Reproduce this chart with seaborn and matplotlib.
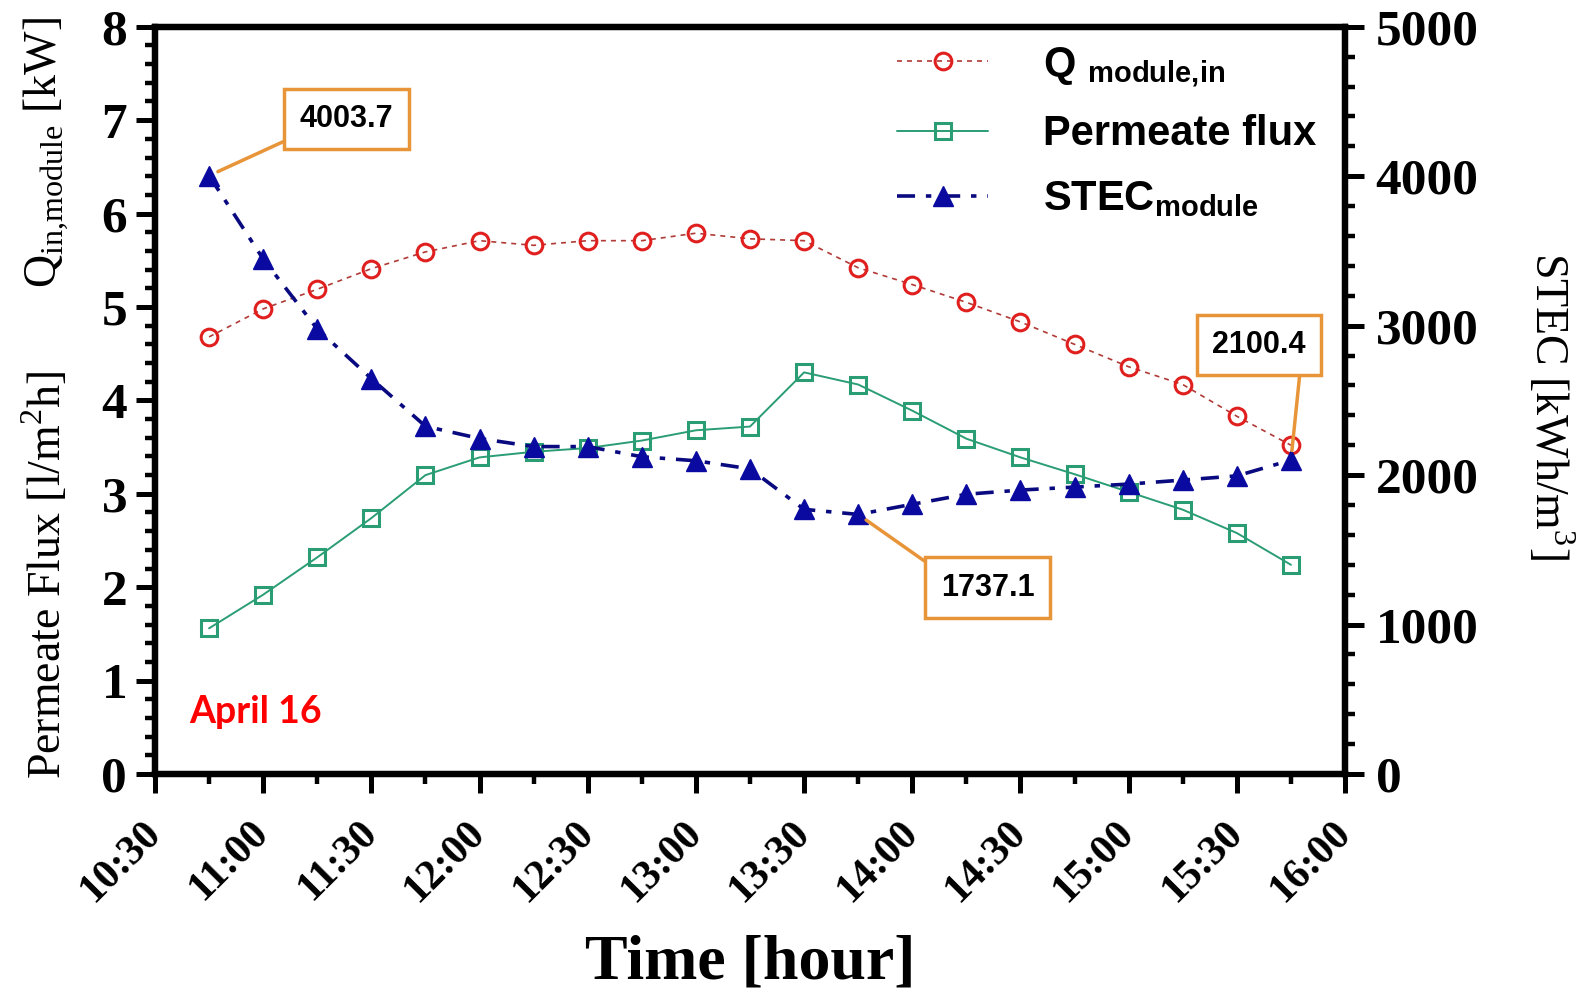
import matplotlib
matplotlib.use("Agg")
import matplotlib.pyplot as plt
from matplotlib.ticker import MultipleLocator
import seaborn as sns

# data (April 16)
times = ["10:45", "11:00", "11:15", "11:30", "11:45", "12:00", "12:15",
         "12:30", "12:45", "13:00", "13:15", "13:30", "13:45", "14:00",
         "14:15", "14:30", "14:45", "15:00", "15:15", "15:30", "15:45"]
q_module_in = [4.68, 4.98, 5.19, 5.41, 5.59, 5.71, 5.66, 5.71, 5.71, 5.79, 5.73,
               5.71, 5.42, 5.24, 5.05, 4.84, 4.60, 4.36, 4.17, 3.83, 3.52]
permeate_flux = [1.56, 1.92, 2.32, 2.74, 3.20, 3.39, 3.45, 3.49, 3.57, 3.68, 3.72,
                 4.30, 4.17, 3.89, 3.59, 3.39, 3.21, 3.02, 2.83, 2.58, 2.24]
stec_module = [4003.7, 3446, 2978, 2646, 2327, 2245, 2191, 2191, 2123, 2096, 2042,
               1771, 1737.1, 1805, 1872, 1900, 1920, 1940, 1967, 1995, 2100.4]
xtick_labels = ["10:30", "11:00", "11:30", "12:00", "12:30", "13:00",
                "13:30", "14:00", "14:30", "15:00", "15:30", "16:00"]


def to_hours(s):
    h, m = s.split(":")
    return int(h) + int(m) / 60


hours = [to_hours(t) for t in times]
xticks = [to_hours(t) for t in xtick_labels]

sns.set_style("ticks")
plt.rcParams["font.family"] = ["Liberation Serif", "DejaVu Serif"]
plt.rcParams.update({"text.color": "black", "axes.labelcolor": "black",
                     "xtick.color": "black", "ytick.color": "black"})

orange = "#E8953A"
red = "#E0201E"
green = "#2A9D74"
blue = "#0A0AA0"

fig = plt.figure(figsize=(15.88, 9.99), dpi=100)
ax = fig.add_axes([0.0976, 0.2252, 0.7494, 0.748])
ax2 = ax.twinx()

sns.lineplot(x=hours, y=q_module_in, ax=ax, sort=False, errorbar=None,
             color="#B03A36", linestyle=(0, (3, 3)), linewidth=1.2,
             marker="o", markersize=12, markerfacecolor="none",
             markeredgecolor=red, markeredgewidth=2.2,
             label="Q $_{\\mathregular{module{,}in}}$")
sns.lineplot(x=hours, y=permeate_flux, ax=ax, sort=False, errorbar=None,
             color=green, linestyle="-", linewidth=1.4,
             marker="s", markersize=12, markerfacecolor="none",
             markeredgecolor=green, markeredgewidth=2.2, label="Permeate flux")
sns.lineplot(x=hours, y=stec_module, ax=ax2, sort=False, errorbar=None,
             color="#0A0A80", linestyle=(0, (5, 3, 1.5, 3)), linewidth=2.6,
             marker="^", markersize=15, markerfacecolor=blue,
             markeredgecolor=blue, markeredgewidth=1,
             label="STEC$_{\\mathregular{module}}$")

ax.set_xlim(10.5, 16.0)
ax.set_ylim(0, 8)
ax2.set_ylim(0, 5000)

ax.set_xticks(xticks)
ax.set_xticklabels(xtick_labels, rotation=45, ha="right", va="center",
                   rotation_mode="anchor", fontsize=30, fontweight="bold")
ax.xaxis.set_minor_locator(MultipleLocator(0.25))
ax.yaxis.set_major_locator(MultipleLocator(1))
ax.yaxis.set_minor_locator(MultipleLocator(0.2))
ax2.yaxis.set_major_locator(MultipleLocator(1000))
ax2.yaxis.set_minor_locator(MultipleLocator(200))

for lab in ax.get_yticklabels() + ax2.get_yticklabels():
    lab.set_fontsize(37)
    lab.set_fontweight("bold")

ax.tick_params(axis="both", which="major", direction="out", length=14, width=3.6, pad=6)
ax.tick_params(axis="both", which="minor", direction="out", length=7, width=3.2)
ax.tick_params(axis="x", which="major", pad=24)
ax.tick_params(top=False, right=False, which="both")
ax2.tick_params(axis="y", which="major", direction="out", length=14, width=3.6, pad=8)
ax2.tick_params(axis="y", which="minor", direction="out", length=7, width=3.2)
ax2.tick_params(left=False, which="both")

for a in (ax, ax2):
    for sp in a.spines.values():
        sp.set_visible(True)
        sp.set_linewidth(4.5)
        sp.set_color("black")

ax.set_xlabel("Time [hour]", fontsize=46, fontweight="bold", labelpad=18)
ax.set_ylabel("")
fig.text(0.029, 0.425, "Permeate Flux [l/m$^{\\mathregular{2}}$h]", rotation=90,
         ha="center", va="center", fontsize=33)
fig.text(0.029, 0.847, "Q$_{\\mathregular{in{,}module}}$ [kW]", rotation=90,
         ha="center", va="center", fontsize=33)
fig.text(0.976, 0.594, "STEC [kWh/m$^{\\mathregular{3}}$]", rotation=270,
         ha="center", va="center", fontsize=33)

ax.text(0.029, 0.083, "April 16", transform=ax.transAxes, color="#FF0000",
        fontsize=27, fontweight="bold", family="Lato", ha="left", va="center")

# legend combining both axes
h1, l1 = ax.get_legend_handles_labels()
h2, l2 = ax2.get_legend_handles_labels()
ax.get_legend().remove()
ax2.get_legend().remove()
leg = ax2.legend(h1 + h2, l1 + l2, loc="upper right", bbox_to_anchor=(1.0, 1.015),
                 frameon=False, handlelength=2.2, labelspacing=0.6, handletextpad=1.3,
                 borderaxespad=0.3, prop={"family": "Liberation Sans", "weight": "bold", "size": 30})

# callouts on STEC
box = dict(boxstyle="square,pad=0.5", fc="white", ec=orange, lw=2.5)
arrow = dict(arrowstyle="-", color=orange, lw=2.5, shrinkA=0, shrinkB=7)
ann_font = dict(fontsize=22, fontweight="bold", family="Liberation Sans", ha="center", va="center")
ax2.annotate(f"{stec_module[0]:.1f}", xy=(hours[0], stec_module[0]), xytext=(11.385, 4382),
             bbox=box, arrowprops=dict(arrow, relpos=(0, 0)), **ann_font)
ax2.annotate(f"{stec_module[12]:.1f}", xy=(hours[12], stec_module[12]), xytext=(14.348, 1248),
             bbox=box, arrowprops=dict(arrow, relpos=(0, 1)), **ann_font)
ax2.annotate(f"{stec_module[20]:.1f}", xy=(hours[20], stec_module[20]), xytext=(15.603, 2870),
             bbox=box, arrowprops=dict(arrow, relpos=(0.95, 0)), **ann_font)

fig.savefig("out.png", dpi=100)
